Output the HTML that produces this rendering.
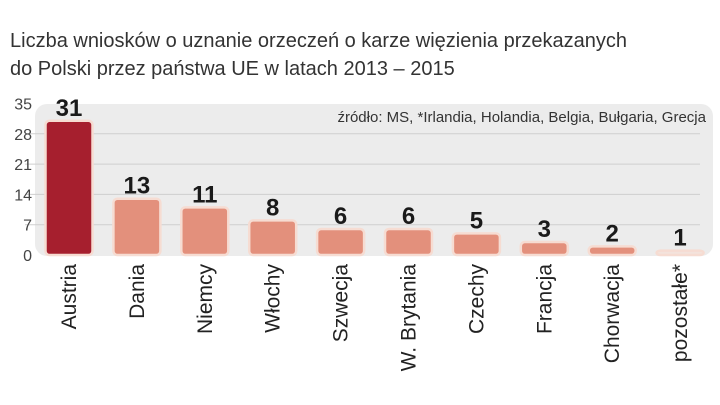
<!DOCTYPE html>
<html><head><meta charset="utf-8"><style>
body{margin:0;background:#fff;}
svg{display:block;font-family:"Liberation Sans",sans-serif;}
</style></head><body>
<svg id="c" width="720" height="405">
<text x="10" y="47" font-size="20" fill="#333">Liczba wniosków o uznanie orzeczeń o karze więzienia przekazanych</text>
<text x="10" y="75" font-size="20" fill="#333">do Polski przez państwa UE w latach 2013 – 2015</text>
<rect x="35" y="104" width="678" height="152" rx="12" fill="#ececec"/>
<g id="grid"></g>
<text x="706" y="122" font-size="15" fill="#333" text-anchor="end">źródło: MS, *Irlandia, Holandia, Belgia, Bułgaria, Grecja</text>
<g id="bars"></g>
</svg>
<script>
const categories=["Austria","Dania","Niemcy","Włochy","Szwecja","W. Brytania","Czechy","Francja","Chorwacja","pozostałe*"];
const values=[31,13,11,8,6,6,5,3,2,1];
const ticks=[0,7,14,21,28,35];
const NS="http://www.w3.org/2000/svg";
const y0=255,pxPer=4.33;
function y(v){return y0-v*pxPer;}
function x(i){return 69+i*67.9;}
const svg=document.getElementById('c'),g=document.getElementById('grid'),b=document.getElementById('bars');
function mk(t,a,p){const e=document.createElementNS(NS,t);for(const k in a)e.setAttribute(k,a[k]);p.appendChild(e);return e;}
ticks.forEach(t=>{
  if(t>0&&t<35){const l=mk('line',{x1:25,x2:700,y1:y(t),y2:y(t),stroke:'#cfcfcf','stroke-width':1},g);
  
  }
  const tx=mk('text',{x:32,y:y(t)+6,'font-size':16,fill:'#444','text-anchor':'end'},g);
  tx.textContent=t;
  
  
});
categories.forEach((c,i)=>{
  const h=Math.max(values[i]*pxPer,3);
  const r=mk('rect',{x:x(i)-23.5,y:y0-h,width:47,height:h,rx:4,fill:i==0?'#a61f2e':(i==9?'#f3e3dc':'#e3907c'),stroke:'#f6dcd2','stroke-width':2.5},b);
  
  
  const v=mk('text',{x:x(i),y:y0-h-5,'font-size':24,'font-weight':'bold',fill:'#1a1a1a','text-anchor':'middle'},b);
  v.textContent=values[i];
  
  
  const l=mk('text',{x:0,y:0,'font-size':21,fill:'#222','text-anchor':'end',transform:`translate(${x(i)+7},264) rotate(-90)`},b);
  l.textContent=c;
  
  
});
</script>
</body></html>
